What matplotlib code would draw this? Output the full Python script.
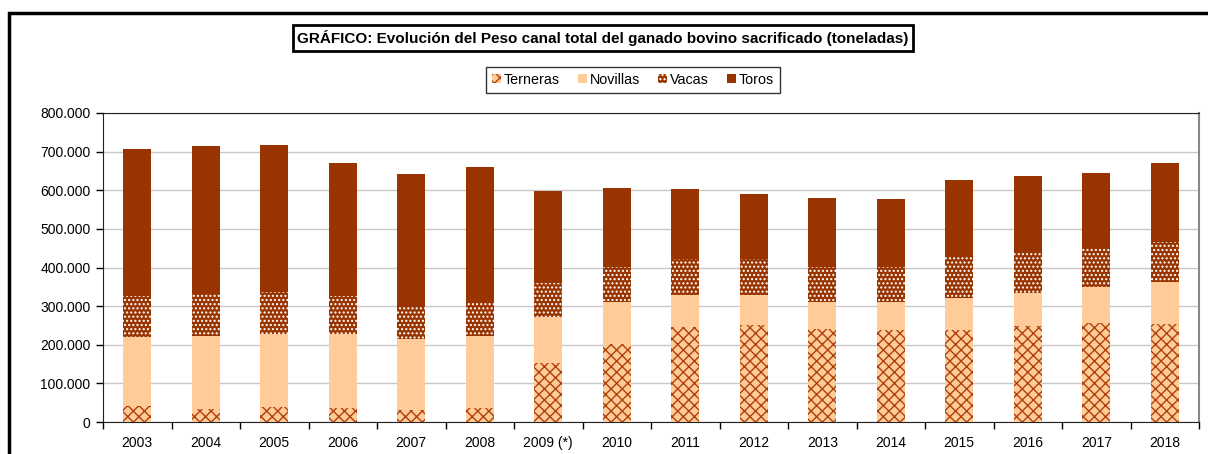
import matplotlib.pyplot as plt
import numpy as np
from matplotlib.patches import Rectangle, Patch

plt.rcParams['font.family'] = ['Liberation Sans', 'DejaVu Sans']
plt.rcParams['hatch.linewidth'] = 1.0

years = ["2003", "2004", "2005", "2006", "2007", "2008", "2009 (*)", "2010",
         "2011", "2012", "2013", "2014", "2015", "2016", "2017", "2018"]
# stacked tonnes
terneras = [42000, 33000, 39000, 37000, 32000, 36000, 152000, 201000,
            247000, 251000, 242000, 237000, 238000, 248000, 257000, 254000]
novillas = [179000, 190000, 188000, 190000, 183000, 186000, 120000, 109000,
            82000, 78000, 68000, 73000, 84000, 87000, 93000, 108000]
vacas = [105000, 110000, 110000, 99000, 85000, 90000, 88000, 92000,
         92000, 94000, 91000, 91000, 104000, 109000, 104000, 103000]
toros = [380000, 382000, 380000, 344000, 343000, 348000, 238000, 204000,
         183000, 168000, 179000, 177000, 200000, 193000, 190000, 205000]

fig = plt.figure(figsize=(12.08, 4.54), dpi=100)
ax = fig.add_axes([103 / 1208, 32 / 454, 1096 / 1208, 309 / 454])

x = np.arange(len(years))
w = 0.41
t = np.array(terneras)
n = np.array(novillas)
v = np.array(vacas)
r = np.array(toros)

ax.bar(x, t, w, color='#FFCC99', edgecolor='#B0400A', hatch='xxx', linewidth=0, zorder=3)
ax.bar(x, n, w, bottom=t, color='#FFCC99', linewidth=0, zorder=3)
ax.bar(x, v, w, bottom=t + n, color='#993300', edgecolor='white', hatch='....', linewidth=0, zorder=3)
ax.bar(x, r, w, bottom=t + n + v, color='#993300', linewidth=0, zorder=3)

ax.set_xlim(-0.5, len(years) - 0.5)
ax.set_ylim(0, 800000)
ax.set_yticks(np.arange(0, 800001, 100000))
ax.set_yticklabels(["0"] + [f"{k:,}".replace(",", ".") for k in range(100000, 800001, 100000)],
                   fontsize=10)
ax.set_xticks(x)
ax.set_xticklabels(years, fontsize=10)
ax.set_xticks(np.arange(-0.5, len(years)), minor=True)
ax.tick_params(axis='x', which='major', length=0, pad=10)
ax.tick_params(axis='x', which='minor', length=5, direction='out', width=1)
ax.tick_params(axis='y', length=5, width=1, pad=4)
ax.grid(axis='y', color='#C8C8C8', linewidth=1, zorder=0)

ax.spines['left'].set_color('#222222')
ax.spines['bottom'].set_color('#222222')
ax.spines['top'].set_color('#222222')
ax.spines['right'].set_color('#888888')
ax.spines['right'].set_linewidth(1.5)

handles = [Patch(facecolor='#FFCC99', edgecolor='#B0400A', hatch='xxx', linewidth=0),
           Patch(facecolor='#FFCC99', linewidth=0),
           Patch(facecolor='#993300', edgecolor='white', hatch='....', linewidth=0),
           Patch(facecolor='#993300', linewidth=0)]
leg = fig.legend(handles, ["Terneras", "Novillas", "Vacas", "Toros"], ncol=4,
                 loc='center', bbox_to_anchor=(633 / 1208, 1 - 80 / 454),
                 fontsize=10.3, frameon=True, fancybox=False, handlelength=0.6,
                 handleheight=0.6, handletextpad=0.2, columnspacing=1.3,
                 borderpad=0.45)
leg.get_frame().set_edgecolor('black')
leg.get_frame().set_linewidth(1)

fig.text(603 / 1208, 1 - 38 / 454,
         "GRÁFICO: Evolución del Peso canal total del ganado bovino sacrificado (toneladas)",
         ha='center', va='center', fontsize=11, fontweight='bold',
         bbox=dict(boxstyle='square,pad=0.3', facecolor='white', edgecolor='black', linewidth=2))

fig.add_artist(Rectangle((9 / 1208, -0.1), 1.2, 1 - 13 / 454 + 0.1, transform=fig.transFigure,
                         fill=False, edgecolor='black', linewidth=2.5))

fig.savefig("out.png", dpi=100)
